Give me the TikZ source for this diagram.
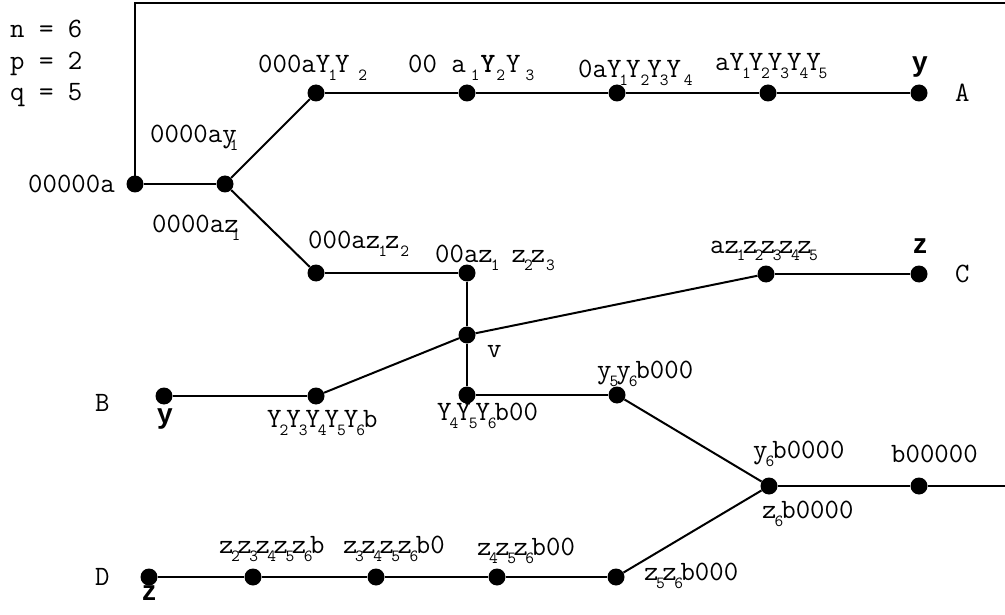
\documentclass[tikz,border=0pt]{standalone}
\usepackage{fontspec}
\newfontfamily\bsans{Liberation Sans}
\newcommand\subf{\fontsize{17}{17}\selectfont}
\newcommand\so[1]{\kern-7pt\raisebox{-8pt}{\subf #1}\kern-2pt}
\newcommand\st[1]{\kern-2.5pt\raisebox{-8pt}{\subf #1}\kern-2.5pt}
\newcommand\sbs[1]{\kern-2pt\raisebox{-8pt}{\subf #1}\kern-2pt}
\newcommand\sbw[1]{\kern1pt\raisebox{-8pt}{\subf #1}\kern1pt}
\newcommand\by{{\bsans\bfseries y}}
\newcommand\bz{{\bsans\bfseries z}}
\begin{document}
\begin{tikzpicture}[x=1pt,y=-1pt,
  dot/.style={circle,fill=black,inner sep=0pt,minimum size=17pt},
  edge/.style={line width=2pt},
  lbl/.style={anchor=base west,inner sep=0pt,font=\ttfamily\fontsize{28}{28}\selectfont}]
\useasboundingbox (0,0) rectangle (1005,615);
% dots
\node[dot] (n0) at (135,184) {};
\node[dot] (n1) at (225,184) {};
\node[dot] (t1) at (316,93) {};
\node[dot] (t2) at (467,93) {};
\node[dot] (t3) at (617,93) {};
\node[dot] (t4) at (768,93) {};
\node[dot] (t5) at (919,93) {};
\node[dot] (l1) at (316,273) {};
\node[dot] (l2) at (467,273) {};
\node[dot] (v) at (467,335) {};
\node[dot] (c1) at (766,274) {};
\node[dot] (c2) at (919,274) {};
\node[dot] (b1) at (164,396) {};
\node[dot] (b2) at (316,396) {};
\node[dot] (m1) at (467,395) {};
\node[dot] (m2) at (617,395) {};
\node[dot] (j) at (769,486) {};
\node[dot] (e1) at (919,486) {};
\coordinate (er) at (1005,486);
\node[dot] (d1) at (149,577) {};
\node[dot] (d2) at (253,577) {};
\node[dot] (d3) at (376,577) {};
\node[dot] (d4) at (497,577) {};
\node[dot] (d5) at (616,577) {};
\coordinate (tr) at (1005,3);
% edges
\draw[edge] (n0.center) |- (tr);
\draw[edge] (n0) -- (n1);
\draw[edge] (n1) -- (t1);
\draw[edge] (t1) -- (t2) -- (t3) -- (t4) -- (t5);
\draw[edge] (n1) -- (l1);
\draw[edge] (l1) -- (l2);
\draw[edge] (l2) -- (v);
\draw[edge] (v) -- (m1);
\draw[edge] (b1) -- (b2);
\draw[edge] (b2) -- (v);
\draw[edge] (v) -- (c1);
\draw[edge] (c1) -- (c2);
\draw[edge] (m1) -- (m2);
\draw[edge] (m2) -- (j);
\draw[edge] (j) -- (e1);
\draw[edge] (e1) -- (er);
\draw[edge] (d1) -- (d2) -- (d3) -- (d4) -- (d5);
\draw[edge] (d5) -- (j);
% labels
\node[lbl] (ln) at (10,38) {n = 6};
\node[lbl] (lp) at (10,70) {p = 2};
\node[lbl] (lq) at (10,101) {q = 5};
\node[lbl] (ln0) at (28,193) {00000a};
\node[lbl] (ln1a) at (150,143) {0000ay\so{1}};
\node[lbl] (ln1b) at (152,233) {0000az\so{1}};
\node[lbl] (lt1) at (258,73) {000aY\sbs{1}Y\hspace{8pt}\sbw{2}};
\node[lbl] (lt2) at (408,73) {00 a\hspace{4pt}\sbw{1}\textbf{Y}\sbw{2}Y\hspace{4pt}\sbw{3}};
\node[lbl] (lt3) at (578,78) {0aY\sbs{1}Y\hspace{2pt}\sbs{2}Y\sbs{3}Y\hspace{2pt}\sbw{4}};
\node[lbl] (lt4) at (715,71) {aY\sbs{1}Y\sbs{2}Y\sbs{3}Y\sbs{4}Y\sbs{5}};
\node[lbl] (lt5) at (912,72) {\by};
\node[lbl] (lA) at (955,102) {A};
\node[lbl] (ll1) at (308,248) {000az\sbs{1}z\hspace{3pt}\sbs{2}};
\node[lbl] (ll2) at (435,262) {00az\sbs{1}\hspace{14pt}z\sbs{2}z\sbw{3}};
\node[lbl] (lc1) at (710,253) {az\st{1}z\st{2}z\st{3}z\st{4}z\st{5}};
\node[lbl] (lc2) at (913,254) {\bz};
\node[lbl] (lC) at (955,283) {C};
\node[lbl] (lv) at (487,357) {v};
\node[lbl] (lm2) at (597,378) {y\sbs{5}y\sbs{6}b000};
\node[lbl] (lm1) at (437,420) {Y\sbs{4}Y\sbs{5}Y\sbs{6}b00};
\node[lbl] (lB) at (95,411) {B};
\node[lbl] (lb1) at (157,423) {\by};
\node[lbl] (lb2) at (267,427) {Y\sbs{2}Y\sbs{3}Y\sbs{4}Y\sbs{5}Y\sbs{6}b};
\node[lbl] (lj1) at (753,458) {y\sbs{6}b0000};
\node[lbl] (le1) at (891,462) {b00000};
\node[lbl] (lj2) at (762,518) {z\sbs{6}b0000};
\node[lbl] (ld2) at (219,553) {z\st{2}z\st{3}z\st{4}z\st{5}z\st{6}b};
\node[lbl] (ld3) at (343,553) {z\st{3}z\st{4}z\st{5}z\st{6}b0};
\node[lbl] (ld4) at (477,555) {z\st{4}z\st{5}z\st{6}b00};
\node[lbl] (ld5) at (644,580) {z\st{5}z\st{6}b000};
\node[lbl] (ld1) at (142,600) {\bz};
\node[lbl] (lD) at (95,585) {D};
\end{tikzpicture}
\end{document}
